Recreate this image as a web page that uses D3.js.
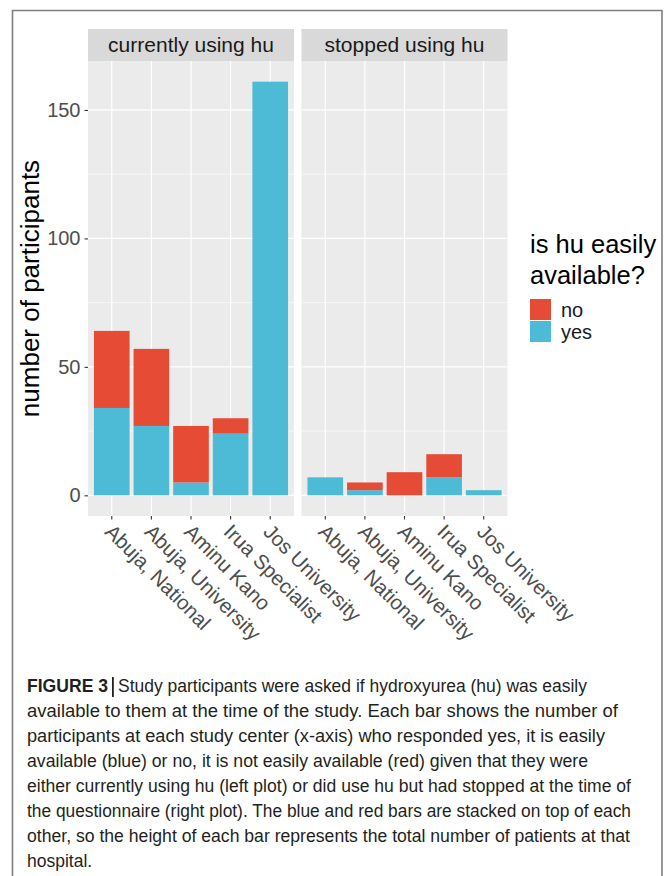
<!DOCTYPE html>
<html>
<head>
<meta charset="utf-8">
<script src="https://cdn.jsdelivr.net/npm/d3@7"></script>
<style>
  body { margin: 0; background: #fff; }
  svg { display: block; font-family: "Liberation Sans", Arial, Helvetica, sans-serif; }
</style>
</head>
<body>
<div id="chart"></div>
<script>
// Data
const centers = ["Abuja, National", "Abuja, University", "Aminu Kano", "Irua Specialist", "Jos University"];
const facets = ["currently using hu", "stopped using hu"];
const yesCurrent = [34, 27, 5, 24, 161];
const noCurrent = [30, 30, 22, 6, 0];
const yesStopped = [7, 2, 0, 7, 2];
const noStopped = [0, 3, 9, 9, 0];
const yTicks = [0, 50, 100, 150];
const legendKeys = ["no", "yes"];

const captionLines = [
  "available to them at the time of the study. Each bar shows the number of",
  "participants at each study center (x-axis) who responded yes, it is easily",
  "available (blue) or no, it is not easily available (red) given that they were",
  "either currently using hu (left plot) or did use hu but had stopped at the time of",
  "the questionnaire (right plot). The blue and red bars are stacked on top of each",
  "other, so the height of each bar represents the total number of patients at that",
  "hospital."
];

function drawChart() {
  const width = 671, height = 876;

  // Colors (ggsci npg-like)
  const colorNo = "#E64B35";
  const colorYes = "#4DBBD5";
  const panelBg = "#EBEBEB";
  const stripBg = "#D9D9D9";
  const axisText = "#4D4D4D";

  const svg = d3.select("#chart").append("svg")
    .attr("width", width)
    .attr("height", height);

  // 1. FRAME around the figure (open at the bottom)
  svg.append("path")
    .attr("d", `M12.5,${height + 2} V10.5 H662 V${height + 2}`)
    .attr("fill", "none")
    .attr("stroke", "#7f7f7f")
    .attr("stroke-width", 1.6);

  // 2. SCALES
  const panelTop = 61, panelBottom = 516;
  const stripTop = 29;
  const panels = [
    { name: facets[0], x0: 88, x1: 294, yes: yesCurrent, no: noCurrent },
    { name: facets[1], x0: 301.5, x1: 507.5, yes: yesStopped, no: noStopped }
  ];

  const totals = panels.flatMap(p => p.yes.map((v, i) => v + p.no[i]));
  const yMax = d3.max(totals);
  const y = d3.scaleLinear()
    .domain([-0.05 * yMax, yMax * 1.05])
    .range([panelBottom, panelTop]);

  const minorTicks = d3.pairs(yTicks).map(([a, b]) => (a + b) / 2)
    .concat([yTicks[yTicks.length - 1] + (yTicks[1] - yTicks[0]) / 2])
    .filter(v => v <= y.domain()[1]);

  const stack = d3.stack().keys(["yes", "no"]);

  panels.forEach((p, pi) => {
    const x = d3.scaleBand()
      .domain(centers)
      .range([p.x0, p.x1])
      .paddingInner(0.1)
      .paddingOuter(0.15);

    const g = svg.append("g");

    // Strip
    g.append("rect")
      .attr("x", p.x0).attr("y", stripTop)
      .attr("width", p.x1 - p.x0).attr("height", panelTop - stripTop)
      .attr("fill", stripBg);
    g.append("text")
      .attr("x", (p.x0 + p.x1) / 2)
      .attr("y", (stripTop + panelTop) / 2 + 7)
      .attr("text-anchor", "middle")
      .style("font-size", "21px")
      .style("fill", "#1A1A1A")
      .text(p.name);

    // Panel background
    g.append("rect")
      .attr("x", p.x0).attr("y", panelTop)
      .attr("width", p.x1 - p.x0).attr("height", panelBottom - panelTop)
      .attr("fill", panelBg);

    // Grid lines
    g.selectAll("line.minor")
      .data(minorTicks)
      .enter().append("line")
      .attr("x1", p.x0).attr("x2", p.x1)
      .attr("y1", d => y(d)).attr("y2", d => y(d))
      .attr("stroke", "#fff").attr("stroke-width", 0.6);
    g.selectAll("line.major")
      .data(yTicks)
      .enter().append("line")
      .attr("x1", p.x0).attr("x2", p.x1)
      .attr("y1", d => y(d)).attr("y2", d => y(d))
      .attr("stroke", "#fff").attr("stroke-width", 1.2);
    g.selectAll("line.vgrid")
      .data(centers)
      .enter().append("line")
      .attr("x1", d => x(d) + x.bandwidth() / 2).attr("x2", d => x(d) + x.bandwidth() / 2)
      .attr("y1", panelTop).attr("y2", panelBottom)
      .attr("stroke", "#fff").attr("stroke-width", 1.2);

    // Stacked bars
    const rows = centers.map((c, i) => ({ center: c, yes: p.yes[i], no: p.no[i] }));
    const series = stack(rows);
    g.selectAll("g.series")
      .data(series)
      .enter().append("g")
      .attr("fill", d => d.key === "yes" ? colorYes : colorNo)
      .selectAll("rect")
      .data(d => d.filter(s => s[1] - s[0] > 0))
      .enter().append("rect")
      .attr("x", d => x(d.data.center))
      .attr("width", x.bandwidth())
      .attr("y", d => y(d[1]))
      .attr("height", d => y(d[0]) - y(d[1]));

    // X axis
    const xAxis = g.append("g")
      .attr("transform", `translate(0,${panelBottom})`)
      .call(d3.axisBottom(x).tickSize(3.5).tickPadding(0));
    xAxis.select(".domain").remove();
    xAxis.selectAll(".tick line").attr("stroke", "#333").attr("stroke-width", 1.1);
    xAxis.selectAll(".tick text")
      .attr("y", 0).attr("x", 0)
      .attr("transform", "translate(1,5) rotate(45)")
      .attr("dx", "0.1em")
      .attr("dy", "0.72em")
      .attr("text-anchor", "start")
      .style("font-size", "20.5px")
      .style("font-family", "\"Liberation Sans\", Arial, sans-serif")
      .style("fill", axisText);

    // Y axis (left panel only)
    if (pi === 0) {
      const yAxis = g.append("g")
        .attr("transform", `translate(${p.x0},0)`)
        .call(d3.axisLeft(y).tickValues(yTicks).tickSize(3.5).tickPadding(4));
      yAxis.select(".domain").remove();
      yAxis.selectAll(".tick line").attr("stroke", "#333").attr("stroke-width", 1.1);
      yAxis.selectAll(".tick text")
        .style("font-size", "20px")
        .style("font-family", "\"Liberation Sans\", Arial, sans-serif")
        .style("fill", axisText);
    }
  });

  // 3. Y AXIS TITLE
  svg.append("text")
    .attr("transform", `translate(39,${(panelTop + panelBottom) / 2}) rotate(-90)`)
    .attr("text-anchor", "middle")
    .style("font-size", "26px")
    .style("fill", "#000")
    .text("number of participants");

  // 4. LEGEND
  const legend = svg.append("g").attr("transform", "translate(530,0)");
  legend.append("text").attr("x", 0).attr("y", 253)
    .style("font-size", "25.5px").text("is hu easily");
  legend.append("text").attr("x", 0).attr("y", 284)
    .style("font-size", "25.5px").text("available?");
  legendKeys.forEach((k, i) => {
    legend.append("rect")
      .attr("x", 0).attr("y", 299 + i * 22)
      .attr("width", 21).attr("height", 21)
      .attr("fill", k === "yes" ? colorYes : colorNo);
    legend.append("text")
      .attr("x", 31).attr("y", 317 + i * 22)
      .style("font-size", "20px")
      .style("fill", "#1A1A1A")
      .text(k);
  });

  // 5. CAPTION
  const cap = svg.append("g").style("fill", "#231F20").style("font-size", "17.5px");
  cap.append("text").attr("x", 27).attr("y", 692)
    .style("font-weight", "bold")
    .attr("textLength", 81).attr("lengthAdjust", "spacingAndGlyphs")
    .text("FIGURE 3");
  cap.append("rect").attr("x", 112).attr("y", 677).attr("width", 1.8).attr("height", 20)
    .attr("fill", "#231F20");
  cap.append("text").attr("x", 118).attr("y", 692)
    .attr("textLength", 469).attr("lengthAdjust", "spacingAndGlyphs")
    .text("Study participants were asked if hydroxyurea (hu) was easily");

  const lineEnds = [618, 605, 588, 631, 631, 630, null];
  captionLines.forEach((line, i) => {
    const t = cap.append("text")
      .attr("x", 27)
      .attr("y", 717 + i * 25)
      .text(line);
    if (lineEnds[i]) {
      t.attr("textLength", lineEnds[i] - 27).attr("lengthAdjust", "spacingAndGlyphs");
    }
  });
}

drawChart();
</script>
</body>
</html>
